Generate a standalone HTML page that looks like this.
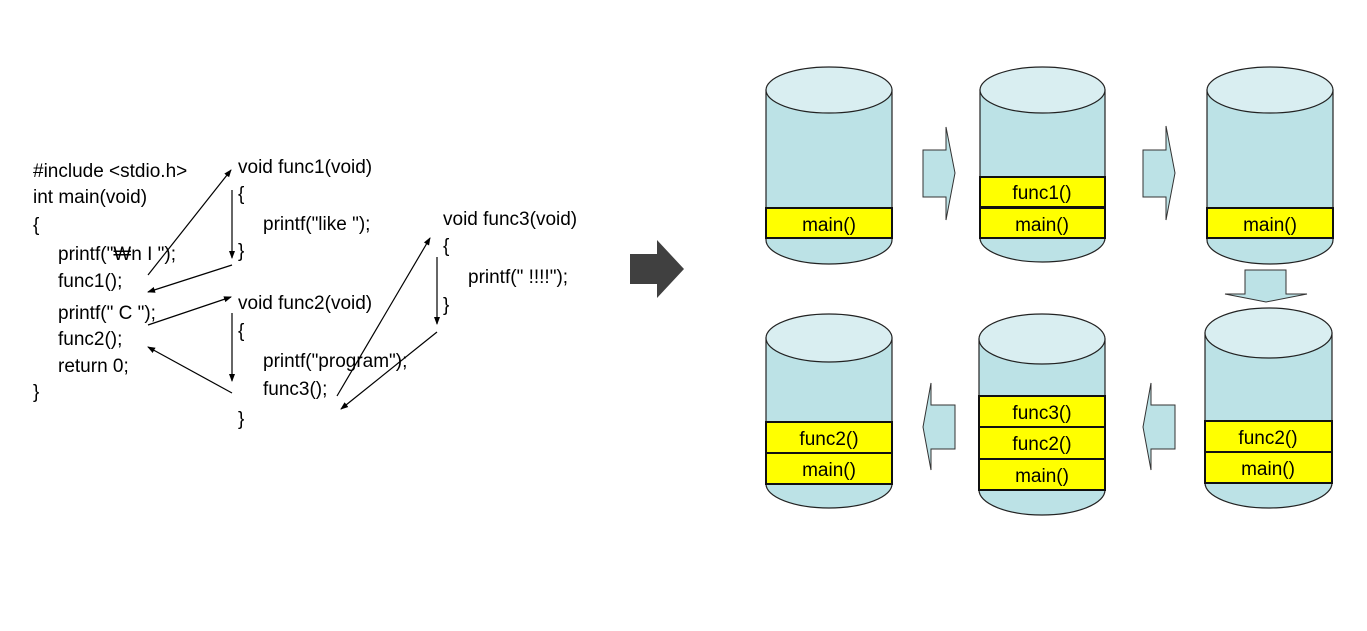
<!DOCTYPE html>
<html><head><meta charset="utf-8"><style>
html,body{margin:0;padding:0;background:#fff;}
svg{display:block;}
.c{font-family:"Liberation Sans","Noto Sans CJK KR",sans-serif;font-size:19px;fill:#000;}
.b{font-family:"Liberation Sans",sans-serif;font-size:19px;fill:#000;text-anchor:middle;}
</style></head><body>
<svg width="1367" height="631" viewBox="0 0 1367 631" xmlns="http://www.w3.org/2000/svg">
<defs>
<marker id="ah" markerWidth="8" markerHeight="8" refX="7" refY="4" orient="auto" markerUnits="userSpaceOnUse">
<path d="M0,1 L8,4 L0,7 Z" fill="#000"/></marker>
</defs>
<!-- code -->
<text class="c" x="33" y="177">#include &lt;stdio.h&gt;</text>
<text class="c" x="33" y="203">int  main(void)</text>
<text class="c" x="33" y="231">{</text>
<text class="c" x="58" y="260">printf("₩n I ");</text>
<text class="c" x="58" y="287">func1();</text>
<text class="c" x="58" y="319">printf(" C ");</text>
<text class="c" x="58" y="345">func2();</text>
<text class="c" x="58" y="372">return 0;</text>
<text class="c" x="33" y="398">}</text>

<text class="c" x="238" y="173">void func1(void)</text>
<text class="c" x="238" y="200">{</text>
<text class="c" x="263" y="230">printf("like ");</text>
<text class="c" x="238" y="257">}</text>
<text class="c" x="238" y="309">void func2(void)</text>
<text class="c" x="238" y="337">{</text>
<text class="c" x="263" y="367">printf("program");</text>
<text class="c" x="263" y="395">func3();</text>
<text class="c" x="238" y="425">}</text>
<text class="c" x="443" y="225">void func3(void)</text>
<text class="c" x="443" y="252">{</text>
<text class="c" x="468" y="283">printf(" !!!!");</text>
<text class="c" x="443" y="311">}</text>

<g stroke="#000" stroke-width="1.2" fill="none" marker-end="url(#ah)">
<line x1="148" y1="275" x2="231" y2="170"/>
<line x1="232" y1="190" x2="232" y2="258"/>
<line x1="232" y1="265" x2="148" y2="292"/>
<line x1="148" y1="325" x2="231" y2="297"/>
<line x1="232" y1="313" x2="232" y2="381"/>
<line x1="232" y1="393" x2="148" y2="347"/>
<line x1="337" y1="396" x2="430" y2="238"/>
<line x1="437" y1="257" x2="437" y2="324"/>
<line x1="437" y1="332" x2="341" y2="409"/>
</g>

<!-- big dark arrow -->
<path d="M630,254 L657,254 L657,240 L684,269 L657,298 L657,284 L630,284 Z" fill="#404040"/>

<!-- cylinders -->
<g stroke="#222" stroke-width="1.2">
<!-- top row -->
<path d="M766,90 L766,240 A63,24 0 0 0 892,240 L892,90 Z" fill="#bce2e6"/>
<ellipse cx="829" cy="90" rx="63" ry="23" fill="#d9eef1"/>
<path d="M980,90 L980,238 A62.5,24 0 0 0 1105,238 L1105,90 Z" fill="#bce2e6"/>
<ellipse cx="1042.5" cy="90" rx="62.5" ry="23" fill="#d9eef1"/>
<path d="M1207,90 L1207,240 A63,24 0 0 0 1333,240 L1333,90 Z" fill="#bce2e6"/>
<ellipse cx="1270" cy="90" rx="63" ry="23" fill="#d9eef1"/>
<!-- bottom row -->
<path d="M766,338 L766,484 A63,24 0 0 0 892,484 L892,338 Z" fill="#bce2e6"/>
<ellipse cx="829" cy="338" rx="63" ry="24" fill="#d9eef1"/>
<path d="M979,339 L979,490 A63,25 0 0 0 1105,490 L1105,339 Z" fill="#bce2e6"/>
<ellipse cx="1042" cy="339" rx="63" ry="25" fill="#d9eef1"/>
<path d="M1205,333 L1205,483 A63.5,25 0 0 0 1332,483 L1332,333 Z" fill="#bce2e6"/>
<ellipse cx="1268.5" cy="333" rx="63.5" ry="25" fill="#d9eef1"/>
</g>
<g stroke="#111" stroke-width="2" fill="#ffff00">
<rect x="766" y="208" width="126" height="30"/>
<rect x="980" y="177" width="125" height="30"/>
<rect x="980" y="208" width="125" height="30"/>
<rect x="1207" y="208" width="126" height="30"/>
<rect x="766" y="422" width="126" height="31"/>
<rect x="766" y="453" width="126" height="31"/>
<rect x="979" y="396" width="126" height="31"/>
<rect x="979" y="427" width="126" height="32"/>
<rect x="979" y="459" width="126" height="31"/>
<rect x="1205" y="421" width="127" height="31"/>
<rect x="1205" y="452" width="127" height="31"/>
</g>
<text class="b" x="829" y="231">main()</text>
<text class="b" x="1042" y="199">func1()</text>
<text class="b" x="1042" y="231">main()</text>
<text class="b" x="1270" y="231">main()</text>
<text class="b" x="829" y="445">func2()</text>
<text class="b" x="829" y="476">main()</text>
<text class="b" x="1042" y="419">func3()</text>
<text class="b" x="1042" y="450">func2()</text>
<text class="b" x="1042" y="482">main()</text>
<text class="b" x="1268" y="444">func2()</text>
<text class="b" x="1268" y="475">main()</text>

<!-- light arrows -->
<g fill="#bce2e6" stroke="#333" stroke-width="1">
<path d="M923,150 L946,150 L946,127 L955,173 L946,220 L946,197 L923,197 Z"/>
<path d="M1143,150 L1166,150 L1166,126 L1175,173 L1166,220 L1166,197 L1143,197 Z"/>
<path d="M1245,270 L1286,270 L1286,294 L1307,294 L1266,302 L1225,294 L1245,294 Z"/>
<path d="M955,405 L931,405 L931,383 L923,427 L931,470 L931,449 L955,449 Z"/>
<path d="M1175,405 L1151,405 L1151,383 L1143,427 L1151,470 L1151,449 L1175,449 Z"/>
</g>
</svg>
</body></html>
